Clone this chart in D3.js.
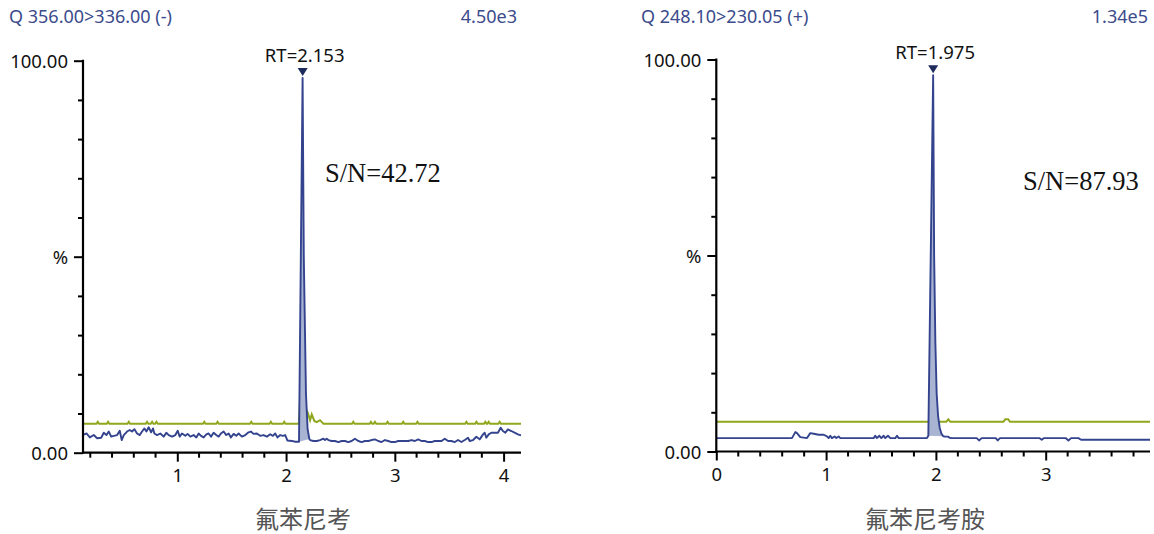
<!DOCTYPE html>
<html lang="zh">
<head>
<meta charset="UTF-8">
<title>氟苯尼考 / 氟苯尼考胺 MRM</title>
<script src="https://d3js.org/d3.v7.min.js"></script>
<style>
  body { margin: 0; background: #fff; }
  svg { display: block; }
  .tick-label { font-family: "Noto Sans", "DejaVu Sans", sans-serif; font-size: 18.5px; fill: #111; }
  .hdr { font-family: "Noto Sans", sans-serif; font-size: 18px; fill: #3b4b8c; }
  .rt { font-family: "Noto Sans", sans-serif; font-size: 18.5px; fill: #111; }
  .sn { font-family: "Liberation Serif", "DejaVu Serif", serif; font-size: 26.5px; fill: #111; }
  .name { font-family: "Noto Sans CJK SC", sans-serif; font-size: 24px; fill: #555; }
</style>
</head>
<body>
<svg id="chart"></svg>
<script>
// ---- data (time in min, intensity in %) ----
const leftHeader = "Q 356.00>336.00 (-)";
const leftScale = "4.50e3";
const leftName = "氟苯尼考";
const leftRT = 2.153;
const leftSN = "S/N=42.72";
const leftPeakRange = [2.119, 2.214];

const leftBlue = [
  [0.133,4.6],[0.147,4.7],[0.165,4.9],[0.196,3.9],[0.232,4.5],[0.263,3.7],[0.300,3.8],[0.324,5.1],
  [0.349,4.5],[0.370,5.4],[0.392,4.1],[0.416,4.3],[0.447,4.5],[0.471,5.6],[0.489,3.2],[0.508,4.5],
  [0.538,5.4],[0.563,5.8],[0.584,5.4],[0.606,6.0],[0.630,4.9],[0.655,4.5],[0.676,5.4],[0.698,6.2],
  [0.716,5.4],[0.737,6.5],[0.759,5.2],[0.777,6.2],[0.789,4.9],[0.814,4.5],[0.844,4.9],[0.875,4.1],
  [0.899,5.1],[0.921,4.5],[0.952,4.1],[0.982,4.5],[1.004,5.6],[1.022,4.1],[1.043,4.9],[1.074,4.3],
  [1.095,4.8],[1.120,4.1],[1.150,4.5],[1.175,3.9],[1.196,4.9],[1.218,4.3],[1.242,3.9],[1.267,4.7],
  [1.288,4.9],[1.310,4.1],[1.334,5.1],[1.358,4.5],[1.380,4.1],[1.401,4.9],[1.426,5.4],[1.450,4.5],
  [1.472,4.9],[1.493,3.9],[1.518,4.8],[1.542,4.3],[1.564,4.9],[1.594,4.1],[1.625,4.5],[1.655,5.2],
  [1.677,5.4],[1.701,4.8],[1.732,4.9],[1.762,4.3],[1.793,4.5],[1.824,4.1],[1.854,4.7],[1.879,4.3],
  [1.900,4.9],[1.922,3.9],[1.946,4.5],[1.970,4.3],[1.992,4.5],[2.013,3.1],[2.053,3.0],[2.084,2.8],
  [2.119,2.8],[2.152,95.6],[2.163,50],[2.183,15],[2.198,6],[2.214,3.5],
  [2.221,3.23],[2.251,2.98],[2.282,2.98],[2.312,3.23],[2.343,3.57],[2.358,3.23],[2.374,3.57],[2.389,3.23],
  [2.419,2.98],[2.450,2.98],[2.481,2.72],[2.511,2.98],[2.542,2.98],[2.572,2.72],[2.603,2.98],[2.633,3.57],
  [2.664,2.98],[2.695,2.72],[2.725,2.98],[2.756,2.98],[2.786,3.23],[2.817,3.4],[2.848,2.98],[2.878,2.72],
  [2.909,3.23],[2.939,2.98],[2.970,2.72],[3.000,2.72],[3.031,2.98],[3.062,2.98],[3.092,2.98],[3.123,2.98],
  [3.153,3.23],[3.184,2.98],[3.215,3.4],[3.245,2.98],[3.276,2.98],[3.306,2.72],[3.337,2.72],[3.367,2.98],
  [3.398,2.98],[3.429,2.98],[3.459,3.57],[3.490,2.98],[3.520,2.98],[3.551,2.72],[3.581,3.23],[3.612,2.72],
  [3.643,3.23],[3.673,3.83],[3.688,2.98],[3.719,3.23],[3.750,4.08],[3.780,3.4],[3.811,4.68],[3.826,5.1],
  [3.841,3.83],[3.863,4.68],[3.887,5.1],[3.918,5.1],[3.948,5.1],[3.973,6.38],[3.994,5.53],[4.016,5.1],
  [4.040,5.95],[4.071,5.53],[4.101,5.1],[4.132,4.68],[4.160,4.42]
];

const leftGreen = [
  [0.133,7.4],[0.257,7.4],[0.269,7.9],[0.281,7.4],[0.352,7.4],[0.364,7.9],[0.376,7.4],[0.542,7.4],
  [0.554,7.9],[0.566,7.4],[0.710,7.4],[0.722,7.9],[0.734,7.4],[0.756,7.4],[0.768,7.9],[0.780,7.4],
  [0.796,7.4],[0.808,7.9],[0.820,7.4],[1.236,7.4],[1.248,7.9],[1.260,7.4],[1.358,7.4],[1.370,7.9],
  [1.382,7.4],[1.668,7.4],[1.680,7.9],[1.692,7.4],[1.848,7.4],[1.860,7.9],[1.872,7.4],[1.971,7.4],
  [1.983,7.9],[1.995,7.4],[2.118,7.4],[2.135,17],[2.150,14],[2.170,12],[2.199,10.2],[2.221,8.3],
  [2.236,9.8],[2.260,8.1],[2.282,7.8],[2.312,8.3],[2.343,7.4],[2.606,7.4],[2.618,7.9],[2.630,7.4],
  [2.768,7.4],[2.780,7.9],[2.792,7.4],[2.805,7.4],[2.817,7.9],[2.829,7.4],[2.921,7.4],[2.933,7.9],
  [2.945,7.4],[3.065,7.4],[3.077,7.9],[3.089,7.4],[3.196,7.4],[3.208,7.9],[3.220,7.4],[3.646,7.4],
  [3.658,7.9],[3.670,7.4],[3.738,7.4],[3.750,7.9],[3.762,7.4],[3.820,7.4],[3.832,7.9],[3.844,7.4],
  [3.851,7.4],[3.863,7.9],[3.875,7.4],[3.952,7.4],[3.964,7.9],[3.976,7.4],[4.160,7.4]
];

const rightHeader = "Q 248.10>230.05 (+)";
const rightScale = "1.34e5";
const rightName = "氟苯尼考胺";
const rightRT = 1.975;
const rightSN = "S/N=87.93";
const rightPeakRange = [1.931, 2.067];

const rightBlue = [
  [0,3.42],[0.689,3.42],[0.720,4.95],[0.735,4.69],[0.765,3.67],[0.826,3.42],[0.856,4.69],[0.887,4.52],
  [0.932,4.27],[0.978,4.27],[1.008,3.84],[1.023,3.42],[1.038,4.01],[1.053,3.42],[1.078,3.84],[1.093,3.42],
  [1.114,3.84],[1.129,3.42],[1.433,3.42],[1.448,4.01],[1.463,3.42],[1.485,4.01],[1.503,3.42],[1.524,4.01],
  [1.539,3.42],[1.563,4.01],[1.585,3.42],[1.630,3.42],[1.646,4.01],[1.661,3.42],[1.919,3.42],[1.931,4.0],
  [1.975,96],[1.984,50],[1.995,28],[2.007,14.8],[2.020,9],[2.035,6],[2.050,4.6],[2.067,3.9],
  [2.083,3.8],[2.110,3.8],[2.125,3.5],[2.144,3.42],[2.372,3.42],[2.393,2.82],[2.417,3.42],[2.545,3.42],
  [2.563,2.82],[2.584,3.42],[2.942,3.42],[2.964,2.99],[2.985,3.42],[3.182,3.42],[3.207,2.82],[3.231,3.42],
  [3.298,3.42],[3.322,2.99],[3.950,2.99]
];

const rightGreen = [
  [0,7.6],[2.095,7.6],[2.113,8.2],[2.131,7.6],[2.615,7.6],[2.632,8.2],[2.658,8.2],[2.675,7.6],[3.950,7.6]
];

const yTickValues = [0,10,20,30,40,50,60,70,80,90,100];
const yTickLabels = {0: "0.00", 50: "%", 100: "100.00"};

// ---- layout ----
const width = 1154, height = 534;
const svg = d3.select('#chart').attr('width', width).attr('height', height);

const panels = [
  {header: leftHeader, scale: leftScale, name: leftName, rt: leftRT, sn: leftSN,
   peak: leftPeakRange, blue: leftBlue, green: leftGreen,
   xDomain: [0.133, 4.16], xRange: [83, 521], yRange: [452.7, 60.7],
   majors: [1,2,3,4], minorStart: 0.2,
   hdrX: 9, scaleX: 517, snX: 325, snY: 182, nameX: 303},
  {header: rightHeader, scale: rightScale, name: rightName, rt: rightRT, sn: rightSN,
   peak: rightPeakRange, blue: rightBlue, green: rightGreen,
   xDomain: [0, 3.95], xRange: [716.3, 1150], yRange: [451.5, 59.5],
   majors: [0,1,2,3], minorStart: 0.2,
   hdrX: 641, scaleX: 1148, snX: 1023, snY: 190, nameX: 925}
];

function drawPanel(p) {
  const g = svg.append('g');
  const x = d3.scaleLinear().domain(p.xDomain).range(p.xRange);
  const y = d3.scaleLinear().domain([0, 100]).range(p.yRange);

  // header
  g.append('text').attr('class', 'hdr').attr('x', p.hdrX).attr('y', 23).text(p.header);
  g.append('text').attr('class', 'hdr').attr('x', p.scaleX).attr('y', 23)
    .attr('text-anchor', 'end').text(p.scale);

  const line = d3.line().x(d => x(d[0])).y(d => y(d[1]));

  // traces
  g.append('path').attr('d', line(p.green))
    .attr('fill', 'none').attr('stroke', '#8fa81e').attr('stroke-width', 2);

  const peakPts = p.blue.filter(d => d[0] >= p.peak[0] - 1e-6 && d[0] <= p.peak[1] + 1e-6);
  g.append('path').attr('d', line(peakPts) + 'Z')
    .attr('fill', '#a9b4d2').attr('stroke', 'none');

  g.append('path').attr('d', line(p.blue))
    .attr('fill', 'none').attr('stroke', '#33438e').attr('stroke-width', 1.9)
    .attr('stroke-linejoin', 'round');

  // y axis
  const yAxis = d3.axisLeft(y).tickValues(yTickValues)
    .tickSize(0).tickFormat('');
  const ya = g.append('g').attr('transform', `translate(${p.xRange[0]},0)`).call(yAxis);
  ya.select('.domain').remove();
  g.append('line').attr('x1', p.xRange[0]).attr('x2', p.xRange[0])
    .attr('y1', y(100) - 1).attr('y2', y(0) + 1).attr('stroke', '#000').attr('stroke-width', 2.2);
  ya.selectAll('.tick').append('line')
    .attr('x1', d => (d % 50 === 0) ? -9 : -5).attr('x2', 0)
    .attr('stroke', '#000').attr('stroke-width', 2);
  ya.selectAll('.tick').filter(d => yTickLabels[d] !== undefined).append('text')
    .attr('class', 'tick-label').attr('x', -15).attr('dy', '0.36em')
    .attr('text-anchor', 'end').text(d => yTickLabels[d]);

  // x axis
  const minors = d3.range(p.minorStart, p.xDomain[1], 0.2)
    .filter(v => Math.abs(v - Math.round(v)) > 0.01);
  const xa = g.append('g').attr('transform', `translate(0,${p.yRange[0]})`);
  xa.append('line').attr('x1', p.xRange[0] - 1).attr('x2', p.xRange[1])
    .attr('stroke', '#000').attr('stroke-width', 2.2);
  xa.selectAll('.minor').data(minors).enter().append('line')
    .attr('x1', d => x(d)).attr('x2', d => x(d)).attr('y1', 0).attr('y2', 5)
    .attr('stroke', '#000').attr('stroke-width', 2);
  xa.call(d3.axisBottom(x).tickValues(p.majors).tickSize(9).tickFormat(d3.format('d')))
    .call(s => s.select('.domain').remove())
    .call(s => s.selectAll('.tick line').attr('stroke-width', 2))
    .call(s => s.selectAll('.tick text').attr('class', 'tick-label').attr('y', 16).attr('dy', '0.71em'));
  xa.attr('font-size', null).attr('font-family', null);

  // RT marker and label
  const px = x(p.rt);
  const apex = d3.max(p.blue, d => d[1]);
  const ty = y(apex) - 2;
  g.append('path').attr('d', `M${px - 5},${ty - 8}L${px + 5},${ty - 8}L${px},${ty}Z`)
    .attr('fill', '#1d2b5c');
  g.append('text').attr('class', 'rt').attr('x', px + 2).attr('y', ty - 14)
    .attr('text-anchor', 'middle').text('RT=' + p.rt.toFixed(3));

  // S/N
  g.append('text').attr('class', 'sn').attr('x', p.snX).attr('y', p.snY).text(p.sn);

  // compound name
  g.append('text').attr('class', 'name').attr('x', p.nameX).attr('y', 528)
    .attr('text-anchor', 'middle').text(p.name);
}

panels.forEach(drawPanel);
</script>
</body>
</html>
